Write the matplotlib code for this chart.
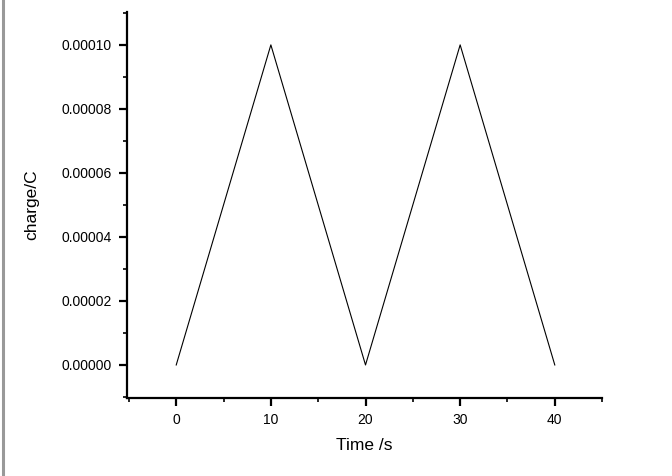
import matplotlib
matplotlib.use("Agg")
import matplotlib.pyplot as plt
from matplotlib.lines import Line2D
from matplotlib.ticker import MultipleLocator, FormatStrFormatter

# valores
tempo = [0, 10, 20, 30, 40]
carga = [0.0, 0.0001, 0.0, 0.0001, 0.0]

plt.rcParams["font.family"] = ["Liberation Sans", "DejaVu Sans"]

fig = plt.figure(figsize=(6.72, 4.76), dpi=100)
ax = fig.add_axes([0.189, 0.164, 0.707, 0.811])

ax.plot(tempo, carga, color="black", linewidth=0.8)

ax.set_xlim(-5.2, 45)
ax.set_ylim(-1.03e-5, 1.103e-4)

ax.spines["top"].set_visible(False)
ax.spines["right"].set_visible(False)
for lado in ("left", "bottom"):
    ax.spines[lado].set_linewidth(1.6)

ax.xaxis.set_major_locator(MultipleLocator(10))
ax.xaxis.set_minor_locator(MultipleLocator(5))
ax.yaxis.set_major_locator(MultipleLocator(0.00002))
ax.yaxis.set_minor_locator(MultipleLocator(0.00001))
ax.yaxis.set_major_formatter(FormatStrFormatter("%.5f"))

ax.tick_params(which="major", length=6, width=1.6, labelsize=10, direction="out", pad=5)
ax.tick_params(which="minor", length=3, width=1.2, direction="out")

ax.set_xlabel("Time /s", fontsize=12.5, labelpad=8)
ax.set_ylabel("charge/C", fontsize=12.5, labelpad=16)

# borda cinza da janela à esquerda
fig.add_artist(Line2D([0.0045, 0.0045], [0, 1], transform=fig.transFigure,
                      color="#999999", linewidth=2.2))

fig.savefig("out.png", dpi=100)
